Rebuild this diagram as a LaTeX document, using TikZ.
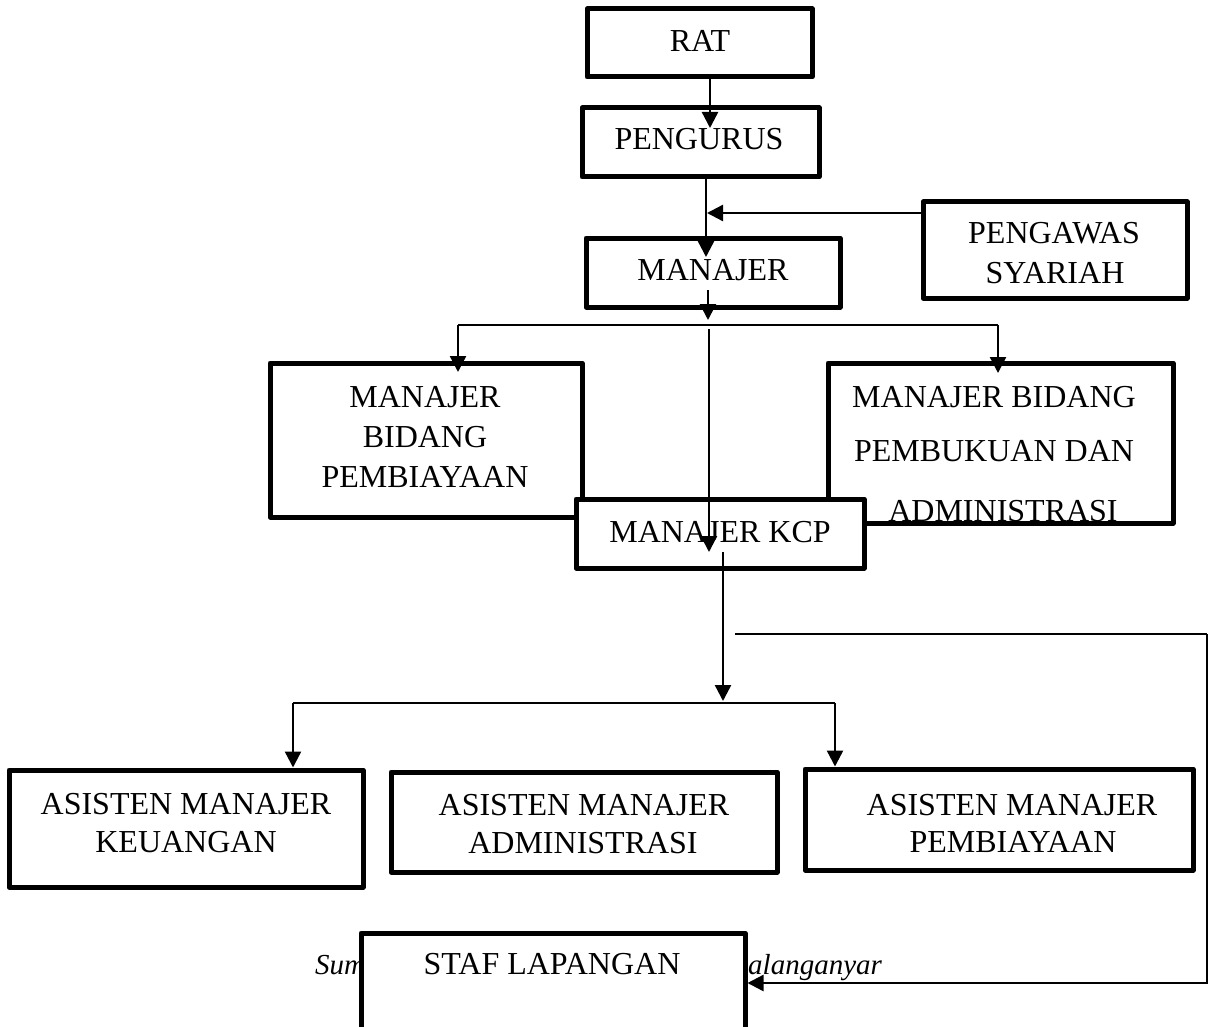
\documentclass[tikz,border=0pt]{standalone}
\usepackage{fontspec}
\setmainfont{Liberation Serif}
\usetikzlibrary{arrows.meta}
\tikzset{
  box/.style={draw, line width=5pt, fill=white, inner sep=0pt, line join=round},
  txt/.style={font=\fontsize{32}{38}\selectfont, anchor=base, inner sep=0pt},
  captxt/.style={font=\fontsize{29}{34}\selectfont\itshape, anchor=base west, inner sep=0pt},
  conn/.style={line width=2.4pt},
  arr/.style={conn, -{Triangle[width=16pt,length=16pt]}},
  hline/.style={line width=1.8pt}
}
\begin{document}
\begin{tikzpicture}[x=1pt,y=-1pt]
\useasboundingbox (0,0) rectangle (1212,1027);

% top boxes
\node[box, minimum width=225pt, minimum height=68pt] (rat) at (699.5,43) {};
\node[txt] (tRat) at (700,52) {RAT};
\node[box, minimum width=237pt, minimum height=69pt] (peng) at (700.5,142.5) {};
\node[txt] (tPeng) at (699,150) {PENGURUS};
\node[box, minimum width=254pt, minimum height=69pt] (man) at (713,272.5) {};
\node[txt] (tMan) at (713,280) {MANAJER};
\node[box, minimum width=264pt, minimum height=96pt] (pws) at (1055,250) {};
\node[txt] (tPws1) at (1054,243) {PENGAWAS};
\node[txt] (tPws2) at (1055,283) {SYARIAH};

% middle boxes
\node[box, minimum width=312pt, minimum height=154pt] (mbp) at (426,440) {};
\node[txt] (tMbp1) at (425,407) {MANAJER};
\node[txt] (tMbp2) at (425,447) {BIDANG};
\node[txt] (tMbp3) at (425,487) {PEMBIAYAAN};

\node[txt] (tMbk1) at (994,407) {MANAJER BIDANG};
\node[txt] (tMbk2) at (994,461) {PEMBUKUAN DAN};
\node[txt] (tMbk3) at (1003,521) {ADMINISTRASI};
\node[box, fill=none, minimum width=345pt, minimum height=160pt] (mbk) at (1000.5,443) {};

\node[box, minimum width=288pt, minimum height=69pt] (kcp) at (720,533.5) {};
\node[txt] (tKcp) at (720,542) {MANAJER KCP};

% bottom boxes
\node[box, minimum width=354pt, minimum height=117pt] (amk) at (186,828.5) {};
\node[txt] (tAmk1) at (186,814) {ASISTEN MANAJER};
\node[txt] (tAmk2) at (186,852) {KEUANGAN};
\node[box, minimum width=386pt, minimum height=100pt] (ama) at (584,822) {};
\node[txt] (tAma1) at (584,815) {ASISTEN MANAJER};
\node[txt] (tAma2) at (583,853) {ADMINISTRASI};
\node[box, minimum width=388pt, minimum height=101pt] (amp) at (999,819.5) {};
\node[txt] (tAmp1) at (1012,815) {ASISTEN MANAJER};
\node[txt] (tAmp2) at (1013,852) {PEMBIAYAAN};

% caption behind staf box
\node[captxt] (cap1) at (315,974) {Sum};
\node[captxt] (cap2) at (748,974) {alanganyar};

\node[box, minimum width=384pt, minimum height=140pt] (staf) at (553,1003) {};
\node[txt] (tStaf) at (552,974) {STAF LAPANGAN};

% connectors
\coordinate (t1) at (710,128);
\draw[arr] (rat.south -| 710,0) -- (t1);
\coordinate (t2) at (706,257);
\draw[arr] (peng.south -| 706,0) -- (t2);
\coordinate (t3) at (707,213);
\draw[arr] (pws.west |- 0,213) -- (t3);

\coordinate (m0) at (708,290);
\coordinate (t4) at (708,320);
\draw[arr] (m0) -- (t4);

\coordinate (hL) at (458,325);
\coordinate (hR) at (998,325);
\draw[hline] (hL) -- (hR);
\coordinate (tL) at (458,372);
\coordinate (tR) at (998,373);
\draw[arr] (hL) -- (tL);
\draw[arr] (hR) -- (tR);

\coordinate (v0) at (709,329);
\coordinate (v1) at (709,552);
\draw[arr] (v0) -- (v1);

\coordinate (k0) at (723,552);
\coordinate (k1) at (723,701);
\draw[arr] (k0) -- (k1);

\coordinate (bL) at (293,703);
\coordinate (bR) at (835,703);
\draw[hline] (bL) -- (bR);
\draw[arr] (bL) -- (amk.north -| bL);
\draw[arr] (bR) -- (amp.north -| bR);

\coordinate (r0) at (735,634);
\coordinate (r1) at (1207,634);
\coordinate (r2) at (1207,983);
\draw[hline] (r0) -- (r1);
\draw[arr] (r1) -- (r2) -- (staf.east |- r2);
\end{tikzpicture}
\end{document}
